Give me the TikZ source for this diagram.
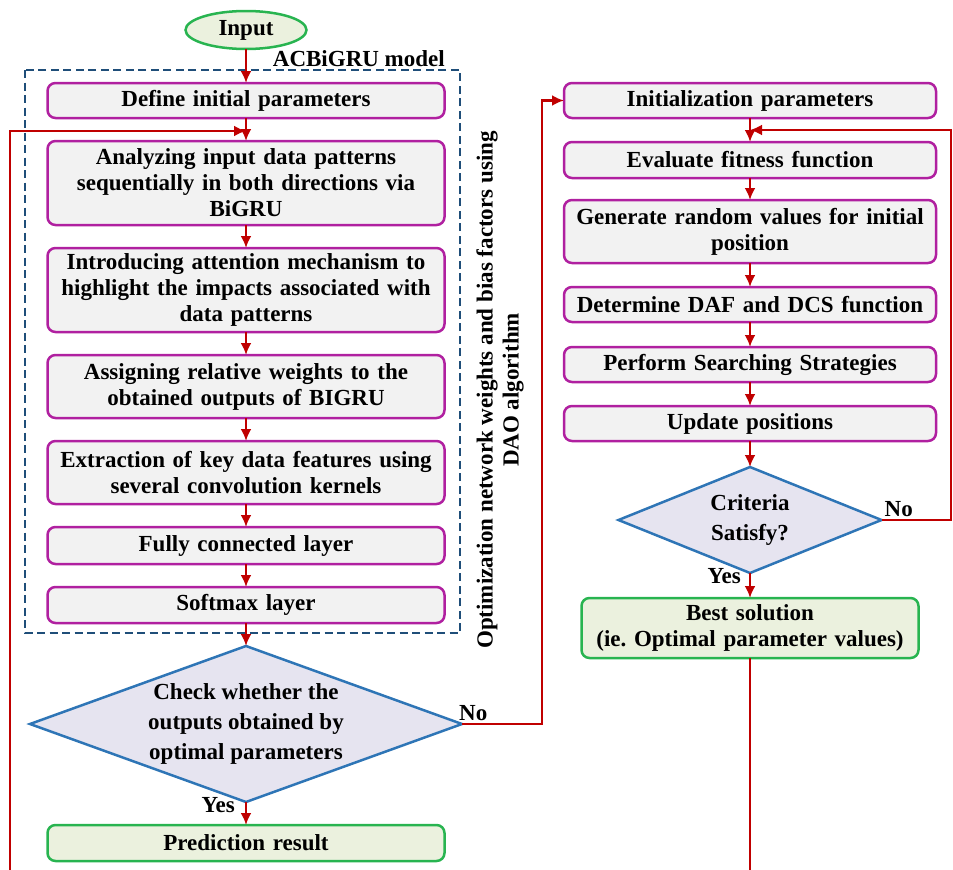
\documentclass[tikz,border=0pt]{standalone}
\usepackage{fontspec}
\setmainfont{Liberation Serif}
\usetikzlibrary{arrows.meta,positioning,shapes.geometric}
\usepackage{xcolor}
\definecolor{fcred}{RGB}{192,0,0}
\definecolor{fcmagenta}{RGB}{176,32,160}
\definecolor{fcgray}{RGB}{242,242,242}
\definecolor{fcblue}{RGB}{46,117,182}
\definecolor{fclavender}{RGB}{230,228,240}
\definecolor{fcgreen}{RGB}{40,180,80}
\definecolor{fclime}{RGB}{235,241,222}
\definecolor{fcnavy}{RGB}{31,78,121}
\tikzset{
    stage/.style={
        draw=fcmagenta,line width=2.5pt,rounded corners=8pt,fill=fcgray,
        align=center,text width=#1,inner sep=0pt,outer sep=0pt
    },
    stage/.default=385pt,
    result/.style={
        draw=fcgreen,line width=2.5pt,rounded corners=8pt,fill=fclime,
        align=center,text width=#1,inner sep=0pt,outer sep=0pt
    },
    result/.default=385pt,
    decision/.style={
        diamond,draw=fcblue,line width=2.5pt,fill=fclavender,
        align=center,inner sep=0pt,outer sep=0pt
    },
    terminal/.style={
        ellipse,draw=fcgreen,line width=2.5pt,fill=fclime,inner sep=0pt,outer sep=0pt
    },
    arrow/.style={
        -{Latex[length=12pt,width=11pt]},line width=2.5pt,draw=fcred
    },
    plain/.style={
        line width=2.5pt,draw=fcred
    },
    dashbox/.style={
        draw=fcnavy,line width=2.5pt,dash pattern=on 8pt off 4.5pt
    },
    lbl/.style={inner sep=1pt}
}

\begin{document}
\frenchspacing
\begin{tikzpicture}[x=1pt,y=-1pt,node distance=23pt,
    font=\bfseries\fontsize{23}{26}\selectfont]
\useasboundingbox (0,0) rectangle (953,870);

% ACBiGRU column
\node[terminal,minimum width=121pt,minimum height=38pt]
(in) at (246,30) {Input};

\draw[dashbox] (25,70) rectangle (460,633);
\node[lbl,anchor=base east] (acb) at (446,66) {ACBiGRU model};

\node[stage,minimum width=397pt,minimum height=35pt]
(def) at (246,100.5) {Define initial parameters};

\node[stage,minimum width=397pt,minimum height=84pt,below=of def]
(ana) {Analyzing input data patterns\\sequentially in both directions via\\BiGRU};

\node[stage,minimum width=397pt,minimum height=84pt,below=of ana]
(att) {Introducing attention mechanism to\\highlight the impacts associated with\\data patterns};

\node[stage,minimum width=397pt,minimum height=63pt,below=of att]
(asg) {Assigning relative weights to the\\obtained outputs of BIGRU};

\node[stage,minimum width=397pt,minimum height=63pt,below=of asg]
(ext) {Extraction of key data features using\\several convolution kernels};

\node[stage,minimum width=397pt,minimum height=37pt,below=of ext]
(fcl) {Fully connected layer};

\node[stage,minimum width=397pt,minimum height=36pt,below=of fcl]
(smx) {Softmax layer};

\node[decision,minimum width=432pt,minimum height=156pt,aspect=2.77,below=of smx]
(chk) {Check whether the\\[4pt]outputs obtained by\\[4pt]optimal parameters};

\node[result,minimum width=397pt,minimum height=36pt,below=of chk]
(pred) {Prediction result};

% DAO column
\node[stage=360pt,minimum width=372pt,minimum height=35pt]
(ini) at (750,100.5) {Initialization parameters};

\node[stage=360pt,minimum width=372pt,minimum height=36pt,below=24pt of ini]
(fit) {Evaluate fitness function};

\node[stage=360pt,minimum width=372pt,minimum height=63pt,below=22pt of fit]
(gen) {Generate random values for initial\\position};

\node[stage=360pt,minimum width=372pt,minimum height=35pt,below=24pt of gen]
(daf) {Determine DAF and DCS function};

\node[stage=360pt,minimum width=372pt,minimum height=35pt,below=25pt of daf]
(srch) {Perform Searching Strategies};

\node[stage=360pt,minimum width=372pt,minimum height=35pt,below=24pt of srch]
(upd) {Update positions};

\node[decision,minimum width=263pt,minimum height=106pt,aspect=2.48,below=26pt of upd]
(crit) {Criteria\\[4pt]Satisfy?};

\node[result=330pt,minimum width=337pt,minimum height=60pt,below=25pt of crit]
(best) {Best solution\\(ie. Optimal parameter values)};

\node[lbl,rotate=90,align=center] (dao) at (500,390)
{Optimization network weights and bias factors using\\DAO algorithm};

% labels
\node[lbl,anchor=south west] (noA) at ([xshift=-4pt,yshift=2pt]chk.east) {No};
\node[lbl,anchor=north east] (yesA) at ([xshift=-10pt,yshift=6pt]chk.south) {Yes};
\node[lbl,anchor=south west] (noB) at ([xshift=2pt,yshift=2pt]crit.east) {No};
\node[lbl,anchor=north east] (yesB) at ([xshift=-8pt,yshift=6pt]crit.south) {Yes};

% connectors
\draw[arrow](in)--(def);
\foreach \a/\b in {def/ana,ana/att,att/asg,asg/ext,ext/fcl,fcl/smx,smx/chk,chk/pred,
    ini/fit,fit/gen,gen/daf,daf/srch,srch/upd,upd/crit,crit/best}
    \draw[arrow](\a)--(\b);

\coordinate (joinL) at ([yshift=-13pt]def.south);
\coordinate (joinR) at ([yshift=-12pt]ini.south);
\coordinate (botL) at (10,870);
\coordinate (edgeR) at (951,0);
\coordinate (midX) at (542,0);

\draw[arrow](botL)|-(joinL);
\draw[arrow](chk.east)-|(midX |- ini.west)--(ini.west);
\draw[arrow](crit.east)--(crit.east -| edgeR)|-(joinR);
\draw[plain](best.south)--(best.south |- botL);

\end{tikzpicture}
\end{document}
